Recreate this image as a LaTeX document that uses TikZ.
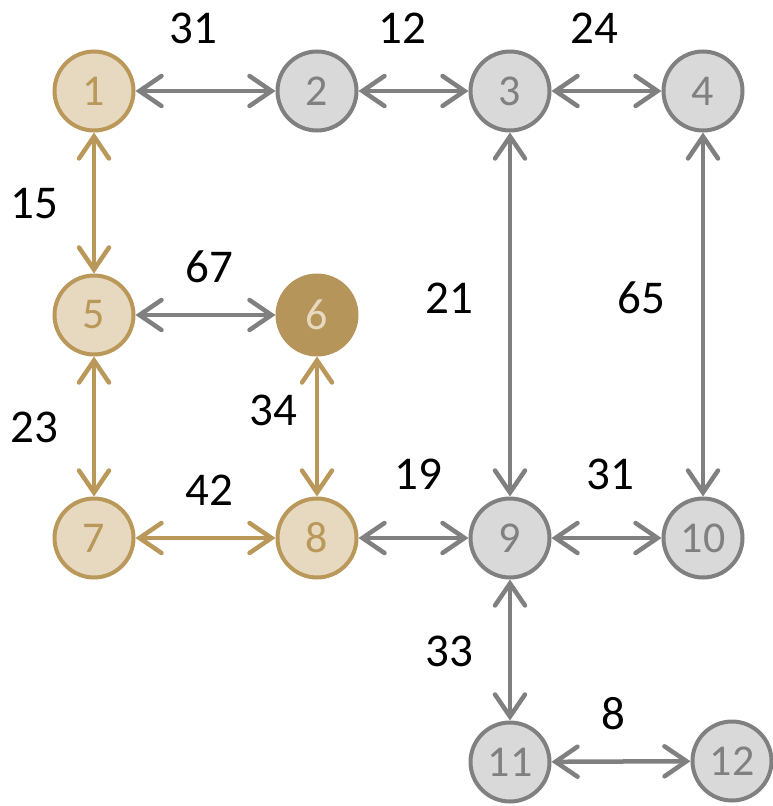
\documentclass[tikz,border=0pt]{standalone}
\usepackage{fontspec}
\setmainfont{Carlito}
\usetikzlibrary{arrows.meta}
\definecolor{tanline}{HTML}{B9985A}
\definecolor{tanfill}{HTML}{E6D9BF}
\definecolor{tandark}{HTML}{B5955A}
\definecolor{grayline}{HTML}{808080}
\definecolor{grayfill}{HTML}{D9D9D9}
\tikzset{
  vtx/.style={circle, line width=4pt, minimum size=79pt, inner sep=0pt, font=\fontsize{44}{46}\selectfont},
  tanv/.style={vtx, draw=tanline, fill=tanfill, text=tanline},
  grayv/.style={vtx, draw=grayline, fill=grayfill, text=grayline},
  darkv/.style={vtx, draw=tandark, fill=tandark, text=tanfill},
  edge/.style={line width=4.5pt, {Straight Barb[length=22pt,width=30pt,line cap=round]}-{Straight Barb[length=22pt,width=30pt,line cap=round]}},
  gedge/.style={edge, draw=grayline},
  tedge/.style={edge, draw=tanline},
  wt/.style={font=\fontsize{47}{50}\selectfont, text=black}
}
\begin{document}
\begin{tikzpicture}[x=1pt,y=-1pt]
\useasboundingbox (0,0) rectangle (773,806);
\node[tanv]  (n1)  at (94,91)  {1};
\node[grayv] (n2)  at (317,91) {2};
\node[grayv] (n3)  at (510,91) {3};
\node[grayv] (n4)  at (703,91) {4};
\node[tanv]  (n5)  at (94,315) {5};
\node[darkv] (n6)  at (317,315) {6};
\node[tanv]  (n7)  at (94,538) {7};
\node[tanv]  (n8)  at (317,538) {8};
\node[grayv] (n9)  at (510,538) {9};
\node[grayv] (n10) at (703,538) {10};
\node[grayv] (n11) at (510,762) {11};
\node[grayv] (n12) at (732,761) {12};
\draw[gedge] (n1) -- (n2);
\draw[gedge] (n2) -- (n3);
\draw[gedge] (n3) -- (n4);
\draw[tedge] (n1) -- (n5);
\draw[gedge] (n5) -- (n6);
\draw[gedge] (n3) -- (n9);
\draw[gedge] (n4) -- (n10);
\draw[tedge] (n5) -- (n7);
\draw[tedge] (n6) -- (n8);
\draw[tedge] (n7) -- (n8);
\draw[gedge] (n8) -- (n9);
\draw[gedge] (n9) -- (n10);
\draw[gedge] (n9) -- (n11);
\draw[gedge] (n11) -- (n12);
\node[wt] (w12) at (193,28) {31};
\node[wt] (w23) at (402,28) {12};
\node[wt] (w34) at (594,28) {24};
\node[wt] (w15) at (34,204) {15};
\node[wt] (w56) at (209,267) {67};
\node[wt] (w39) at (449,298) {21};
\node[wt] (w410) at (641,298) {65};
\node[wt] (w57) at (34,427) {23};
\node[wt] (w68) at (273,410) {34};
\node[wt] (w78) at (209,490) {42};
\node[wt] (w89) at (418,474) {19};
\node[wt] (w910) at (610,474) {31};
\node[wt] (w911) at (449,651) {33};
\node[wt] (w1112) at (613,714) {8};
\end{tikzpicture}
\end{document}
